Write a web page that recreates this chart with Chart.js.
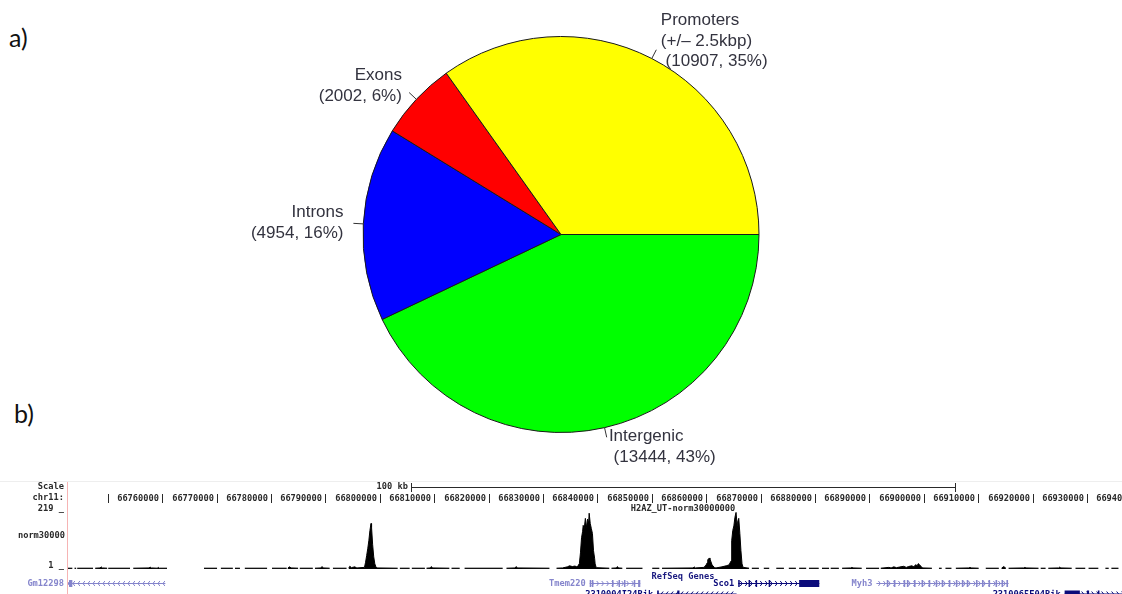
<!DOCTYPE html>
<html>
<head>
<meta charset="utf-8">
<title>H2A.Z peak annotation</title>
<script src="https://cdn.jsdelivr.net/npm/chart.js@4.4.1/dist/chart.umd.min.js"></script>
<style>
  html, body { margin: 0; padding: 0; background: #fff; }
  body { width: 1122px; height: 594px; overflow: hidden; position: relative; }
  .panel-tag { position: absolute; font-family: Lato, "Open Sans", sans-serif; font-size: 25px; line-height: 25px; color: #111; }
  #pieChart { position: absolute; left: 0; top: 0; }
  #trackBox { position: absolute; left: 0; top: 470px; width: 1122px; height: 124px; overflow: hidden; }
</style>
</head>
<body>
<div class="panel-tag" style="left:9px; top:25px;">a)</div>
<div class="panel-tag" style="left:14px; top:401px;">b)</div>
<canvas id="pieChart" width="1122" height="480"></canvas>
<div id="trackBox"><canvas id="trackChart" width="1300" height="124"></canvas></div>

<script>
// peaks per genomic feature
const featureNames = ['Promoters', 'Exons', 'Introns', 'Intergenic'];
const featureNotes = ['(+/\u2013 2.5kbp)', '', '', ''];
const featureCounts = [10907, 2002, 4954, 13444];
const featureColors = ['#ffff00', '#ff0000', '#0000ff', '#00ff00'];

// browser window (kb on chr11)
const chrom = 'chr11';
const viewKb = [66742.7, 66968.8];
const rulerTicksKb = [66750, 66760, 66770, 66780, 66790, 66800, 66810, 66820, 66830, 66840,
  66850, 66860, 66870, 66880, 66890, 66900, 66910, 66920, 66930, 66940, 66950, 66960];
const scaleBarKb = 100;
const trackName = 'H2AZ_UT-norm30000000';
const trackShort = 'norm30000';
const trackRange = [1, 219];

// coverage signal: [kb, value], null = no data
const signalPoints = [
  [66742.7, 3], [66743.5, 3], [66743.7, null],
  [66743.9, 3], [66744.2, 3], [66744.3, null],
  [66744.4, 3], [66747.3, 3], [66747.5, null],
  [66747.7, 3], [66748.6, 4], [66748.8, 8], [66749.0, 4], [66749.9, 3], [66750.0, null],
  [66750.1, 3], [66754.1, 3], [66754.4, null],
  [66754.7, 3], [66757.6, 4], [66757.8, 7], [66758.0, 4], [66759.1, 3], [66759.3, 6], [66759.5, 3], [66760.9, 3], [66764.0, null],
  [66767.7, 3], [66770.1, 3], [66770.4, null],
  [66770.8, 3], [66773.0, 3], [66773.2, null],
  [66773.4, 3], [66774.3, 3], [66774.7, null],
  [66775.2, 3], [66779.3, 3], [66779.7, null],
  [66780.2, 3], [66782.9, 3], [66783.0, null],
  [66783.1, 3], [66783.4, 8], [66783.7, 4], [66785.0, 3], [66785.1, null],
  [66785.3, 3], [66787.7, 3], [66787.9, null],
  [66788.1, 3], [66789.2, 4], [66789.4, 9], [66789.6, 4], [66790.8, 3], [66791.1, null],
  [66791.4, 3], [66793.9, 3], [66794.1, null],
  [66794.3, 3], [66794.5, 10], [66794.8, 5], [66795.4, 8], [66795.8, 4], [66797.2, 6],
  [66797.4, 25], [66797.6, 50], [66797.8, 75], [66798.0, 105], [66798.2, 143], [66798.4, 169],
  [66798.5, 154], [66798.7, 90], [66798.9, 45], [66799.1, 19], [66799.3, 8], [66799.5, 4],
  [66803.3, 3], [66803.5, null],
  [66803.7, 3], [66805.5, 3], [66805.7, null],
  [66805.9, 3], [66808.3, 3], [66808.45, null],
  [66808.6, 3], [66809.3, 4], [66809.5, 9], [66809.7, 4], [66812.8, 3], [66813.0, null],
  [66813.2, 3], [66814.7, 3], [66815.1, null],
  [66815.6, 3], [66822.6, 3], [66822.9, null],
  [66823.3, 3], [66824.9, 4], [66825.1, 9], [66825.3, 4], [66831.2, 3], [66831.8, null],
  [66832.5, 3], [66833.6, 4], [66834.5, 8], [66834.9, 12], [66835.4, 9], [66835.9, 11], [66836.3, 7],
  [66836.7, 20], [66836.9, 60], [66837.1, 116], [66837.3, 140], [66837.4, 162], [66837.6, 150],
  [66837.8, 188], [66838.0, 154], [66838.2, 185], [66838.4, 170], [66838.5, 207], [66838.7, 169],
  [66838.9, 150], [66839.1, 132], [66839.3, 68], [66839.5, 40], [66839.6, 19], [66839.8, 5],
  [66842.2, 3], [66842.4, null],
  [66842.6, 3], [66843.5, 4], [66843.7, 9], [66843.9, 4], [66844.6, 3], [66844.9, null],
  [66845.3, 3], [66848.3, 3], [66849.2, null],
  [66850.1, 3], [66851.4, 3], [66851.6, null],
  [66851.9, 3], [66857.6, 4], [66857.8, 8], [66858.0, 4], [66859.6, 6],
  [66860.0, 15], [66860.2, 23], [66860.3, 34], [66860.6, 41], [66860.7, 38], [66860.9, 26],
  [66861.1, 15], [66861.5, 6], [66861.8, 4],
  [66862.9, 8], [66863.7, 12], [66864.2, 15],
  [66864.6, 30], [66864.7, 105], [66864.9, 143], [66865.1, 160], [66865.3, 192], [66865.5, 210],
  [66865.7, 162], [66865.8, 175], [66866.0, 188], [66866.2, 132], [66866.4, 68], [66866.6, 19], [66866.8, 6],
  [66867.9, 3], [66868.1, null],
  [66868.4, 3], [66869.7, 3], [66870.1, null],
  [66870.6, 3], [66871.6, 3], [66872.2, null],
  [66872.9, 3], [66874.3, 3], [66874.7, null],
  [66875.2, 3], [66876.5, 3], [66876.8, null],
  [66877.1, 3], [66878.4, 3], [66878.6, null],
  [66878.9, 3], [66880.7, 3], [66881.0, null],
  [66881.3, 3], [66882.6, 3], [66882.75, null],
  [66882.9, 3], [66884.4, 3], [66884.7, null],
  [66885.0, 3], [66886.6, 4], [66886.8, 6], [66887.0, 4], [66888.6, 3], [66889.0, null],
  [66889.4, 3], [66891.8, 3], [66891.95, null],
  [66892.1, 3], [66893.6, 6], [66894.0, 4], [66894.5, 8], [66895.0, 5], [66895.5, 7], [66896.3, 10],
  [66896.8, 6], [66897.2, 9], [66897.8, 12], [66898.2, 8], [66898.5, 16], [66898.8, 12], [66899.0, 20],
  [66899.3, 14], [66899.5, 10], [66899.8, 4], [66901.5, 3], [66902.1, null],
  [66902.8, 3], [66903.3, 3], [66903.6, null],
  [66904.0, 3], [66905.1, 3], [66905.5, null],
  [66905.9, 3], [66908.3, 4], [66908.5, 6], [66908.7, 4], [66910.1, 3], [66910.7, null],
  [66911.4, 3], [66913.8, 3], [66914.0, null],
  [66914.3, 3], [66914.7, 9], [66915.1, 3], [66915.35, null],
  [66915.6, 3], [66918.4, 4], [66918.6, 6], [66918.8, 4], [66921.1, 3], [66921.3, null],
  [66921.5, 3], [66922.4, 3], [66922.6, null],
  [66922.9, 3], [66924.8, 4], [66925.0, 7], [66925.2, 4], [66927.2, 3], [66927.5, null],
  [66927.9, 3], [66929.7, 3], [66930.0, null],
  [66930.3, 3], [66932.1, 3], [66932.7, null],
  [66933.4, 3], [66934.0, 3], [66934.2, null],
  [66934.5, 3], [66935.8, 3], [66936.2, null],
  [66936.6, 3], [66945.0, 3], [66945.5, null],
  [66946.0, 3], [66955.0, 3], [66955.5, null],
  [66956.0, 3], [66968.8, 3]
];

// RefSeq genes in view
const geneNames = ['Gm12298', 'Tmem220', 'Sco1', 'Myh3', '2310004I24Rik', '2310065E04Rik'];
const geneStarts = [66730.0, 66838.6, 66865.9, 66891.3, 66851.0, 66925.9];
const geneEnds = [66760.6, 66847.9, 66880.8, 66915.6, 66865.6, 66950.0];
const geneStrands = ['-', '+', '+', '+', '-', '+'];
const geneRows = [0, 0, 0, 0, 1, 1];
const geneReviewed = [false, false, true, false, true, true];
const geneExons = [
  [[66742.9, 66743.5]],
  [[66838.6, 66838.8], [66839.0, 66839.2], [66842.7, 66842.9], [66843.9, 66844.1], [66844.9, 66845.1], [66846.7, 66846.9], [66847.5, 66847.9]],
  [[66865.9, 66866.1], [66867.8, 66868.0], [66869.1, 66869.3], [66871.5, 66871.7], [66877.1, 66880.8]],
  [[66893.2, 66893.5], [66894.5, 66894.8], [66896.3, 66896.6], [66896.9, 66897.2], [66898.2, 66898.5], [66899.6, 66899.9],
   [66900.9, 66901.2], [66902.2, 66902.5], [66903.3, 66903.6], [66904.6, 66904.9], [66905.9, 66906.2], [66907.0, 66907.3],
   [66907.9, 66908.2], [66909.6, 66909.9], [66910.7, 66911.0], [66911.9, 66912.2], [66913.2, 66913.5], [66914.3, 66914.6], [66915.2, 66915.5]],
  [[66851.0, 66851.3], [66854.7, 66855.1]],
  [[66925.9, 66928.7], [66930.0, 66930.4], [66932.0, 66932.3]]
];

// pie: R-style counter-clockwise from 3 o'clock, so feed Chart.js the reverse order
const order = [3, 2, 1, 0];

const pieLabels = {
  id: 'pieLabels',
  afterDatasetsDraw(chart) {
    const ctx = chart.ctx;
    const meta = chart.getDatasetMeta(0);
    const total = featureCounts.reduce((a, b) => a + b, 0);
    ctx.save();
    ctx.font = '17px "Liberation Sans", Arial, sans-serif';
    ctx.fillStyle = '#33333f';
    ctx.strokeStyle = '#333';
    ctx.lineWidth = 1;
    ctx.textBaseline = 'middle';
    meta.data.forEach((arc, i) => {
      const k = order[i];
      const p = arc.getProps(['x', 'y', 'startAngle', 'endAngle', 'outerRadius'], true);
      const mid = (p.startAngle + p.endAngle) / 2;
      const dx = Math.cos(mid), dy = Math.sin(mid);
      const r = p.outerRadius;
      ctx.beginPath();
      ctx.moveTo(p.x + dx * r, p.y + dy * r);
      ctx.lineTo(p.x + dx * r * 1.05, p.y + dy * r * 1.05);
      ctx.stroke();
      const lines = [featureNames[k]];
      if (featureNotes[k]) lines.push(featureNotes[k]);
      lines.push(' (' + featureCounts[k] + ', ' + Math.round(100 * featureCounts[k] / total) + '%)');
      const tx = p.x + dx * r * 1.1, ty = p.y + dy * r * 1.1;
      ctx.textAlign = dx > 0 ? 'left' : 'right';
      const lh = 20.5;
      lines.forEach((s, j) => ctx.fillText(s, tx, ty + (j - (lines.length - 1) / 2) * lh));
    });
    ctx.restore();
  }
};

new Chart(document.getElementById('pieChart'), {
  type: 'pie',
  data: {
    labels: order.map(k => featureNames[k]),
    datasets: [{
      data: order.map(k => featureCounts[k]),
      backgroundColor: order.map(k => featureColors[k]),
      borderColor: '#1a1a1a',
      borderWidth: 1
    }]
  },
  options: {
    responsive: false,
    animation: false,
    events: [],
    rotation: 90,
    layout: { padding: { top: 36, bottom: 47, left: 0, right: 0 } },
    plugins: { legend: { display: false }, tooltip: { enabled: false } }
  },
  plugins: [pieLabels]
});

// genome browser track
const browserFont = 'bold 8.7px "DejaVu Sans Mono", monospace';

const trackDecor = {
  id: 'trackDecor',
  afterDraw(chart) {
    const ctx = chart.ctx, area = chart.chartArea;
    const px = kb => chart.scales.x.getPixelForValue(kb);
    const mid = (viewKb[0] + viewKb[1]) / 2;
    ctx.save();
    ctx.fillStyle = '#eeeeee';
    ctx.fillRect(0, 11, chart.width, 1);
    ctx.fillStyle = '#f6b4b4';
    ctx.fillRect(area.left - 1, 12, 1, chart.height - 12);

    ctx.font = browserFont;
    ctx.textBaseline = 'middle';
    ctx.fillStyle = '#2a2a2a';
    ctx.textAlign = 'right';
    ctx.fillText('Scale', 64, 17);
    ctx.fillText(chrom + ':', 64, 28);
    ctx.fillText(trackRange[1] + ' _', 64, 39);
    ctx.fillText(trackShort, 65, 66);
    ctx.fillText(trackRange[0] + ' _', 64, 96);

    // scale bar centred in the window
    const b0 = Math.round(px(mid - scaleBarKb / 2)), b1 = Math.round(px(mid + scaleBarKb / 2));
    ctx.fillText(scaleBarKb + ' kb', b0 - 3, 17);
    ctx.fillRect(b0, 17, b1 - b0, 1);
    ctx.fillRect(b0, 13, 1, 9);
    ctx.fillRect(b1, 13, 1, 9);

    // base position ruler
    rulerTicksKb.forEach(kb => {
      const t = Math.round(px(kb));
      ctx.fillRect(t, 24, 1, 9);
      const s = String(kb * 1000);
      if (t - 3 - ctx.measureText(s).width > area.left) ctx.fillText(s, t - 3, 28.5);
    });

    ctx.textAlign = 'center';
    ctx.fillText(trackName, px(mid), 39);
    ctx.fillStyle = '#1a1a80';
    ctx.fillText('RefSeq Genes', px(mid), 107);

    // gene bodies, clipped to the data area
    ctx.save();
    ctx.beginPath();
    ctx.rect(area.left, 100, chart.width - area.left, 30);
    ctx.clip();
    geneNames.forEach((name, g) => {
      const y = geneRows[g] === 0 ? 113.5 : 124;
      const col = geneReviewed[g] ? '#0b0b7a' : '#8585cc';
      const x0 = px(geneStarts[g]), x1 = px(geneEnds[g]);
      ctx.fillStyle = col;
      ctx.strokeStyle = col;
      ctx.lineWidth = 1;
      ctx.fillRect(x0, y - 0.5, x1 - x0, 1);
      const d = geneStrands[g] === '+' ? -2 : 2;
      ctx.beginPath();
      for (let c = x0 + 4; c < x1 - 2; c += 5) {
        ctx.moveTo(c + d, y - 2.5);
        ctx.lineTo(c, y);
        ctx.lineTo(c + d, y + 2.5);
      }
      ctx.stroke();
      geneExons[g].forEach(([a, b]) => {
        const e0 = px(a), e1 = px(b);
        ctx.fillRect(e0, y - 3.5, Math.max(e1 - e0, 1.5), 7);
      });
    });
    ctx.restore();

    // gene names
    ctx.textAlign = 'right';
    geneNames.forEach((name, g) => {
      const y = geneRows[g] === 0 ? 114 : 124.5;
      ctx.fillStyle = geneReviewed[g] ? '#0b0b7a' : '#8585cc';
      const lx = px(geneStarts[g]) - 4;
      ctx.fillText(name, lx < area.left ? 64 : lx, y);
    });
    ctx.restore();
  }
};

new Chart(document.getElementById('trackChart'), {
  type: 'line',
  data: {
    datasets: [{
      data: signalPoints.map(p => ({ x: p[0], y: p[1] })),
      borderColor: '#000',
      backgroundColor: '#000',
      borderWidth: 1,
      pointRadius: 0,
      tension: 0,
      fill: 'origin',
      spanGaps: false
    }]
  },
  options: {
    responsive: false,
    animation: false,
    events: [],
    layout: { padding: { left: 68, right: 2, top: 40, bottom: 25 } },
    scales: {
      x: { type: 'linear', min: viewKb[0], max: viewKb[1], display: false },
      y: { min: 0, max: trackRange[1], display: false }
    },
    plugins: { legend: { display: false }, tooltip: { enabled: false } }
  },
  plugins: [trackDecor]
});
</script>
</body>
</html>
